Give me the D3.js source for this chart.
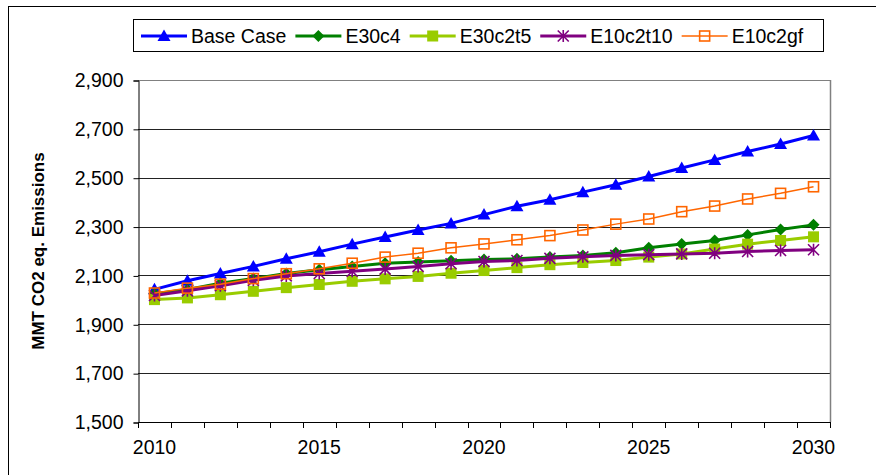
<!DOCTYPE html>
<html>
<head>
<meta charset="utf-8">
<script src="https://cdn.jsdelivr.net/npm/d3@7"></script>
<style>
  html, body { margin: 0; padding: 0; background: #fff; }
  svg { display: block; font-family: "Liberation Sans", Arial, sans-serif; }
</style>
</head>
<body>
<svg id="chart" width="876" height="475"></svg>
<script>
// Emission projections, MMT CO2 eq., 2010–2030
const years = d3.range(2010, 2031);
const baseCase = [2043, 2078, 2108, 2137, 2168, 2197, 2228, 2257, 2286, 2313, 2349,
                  2383, 2410, 2441, 2471, 2505, 2540, 2573, 2607, 2638, 2673];
const e30c4 = [2025, 2042, 2068, 2087, 2108, 2123, 2137, 2150, 2155, 2160, 2165,
               2168, 2175, 2182, 2193, 2213, 2229, 2243, 2266, 2288, 2307];
const e30c2t5 = [2001, 2008, 2021, 2035, 2050, 2063, 2076, 2086, 2096, 2109, 2120,
                 2132, 2144, 2153, 2161, 2175, 2188, 2208, 2228, 2243, 2258];
const e10c2t10 = [2018, 2037, 2058, 2080, 2098, 2108, 2117, 2126, 2137, 2148, 2157,
                  2161, 2170, 2176, 2182, 2185, 2188, 2191, 2198, 2202, 2205];
const e10c2gf = [2028, 2048, 2064, 2087, 2107, 2127, 2150, 2175, 2191, 2213, 2229,
                 2246, 2263, 2286, 2310, 2331, 2361, 2384, 2413, 2436, 2463];

const seriesNames = ["Base Case", "E30c4", "E30c2t5", "E10c2t10", "E10c2gf"];
const seriesValues = [baseCase, e30c4, e30c2t5, e10c2t10, e10c2gf];
const yTicks = [1500, 1700, 1900, 2100, 2300, 2500, 2700, 2900];
const xLabelYears = [2010, 2015, 2020, 2025, 2030];
const yTitle = "MMT CO2 eq. Emissions";

// Visual style per series
const styles = [
  { color: "#0000FF", width: 3,   marker: "triangle" },
  { color: "#008000", width: 3,   marker: "diamond" },
  { color: "#99CC00", width: 3,   marker: "square" },
  { color: "#800080", width: 3,   marker: "star" },
  { color: "#FF6600", width: 1.5, marker: "hollowSquare" }
];

const svg = d3.select("#chart");
const plot = { left: 138, right: 830, top: 80, bottom: 422 };

const x = d3.scaleBand().domain(years).range([plot.left, plot.right]).padding(0);
const cx = d => x(d) + x.bandwidth() / 2;
const y = d3.scaleLinear().domain([1500, 2900]).range([plot.bottom, plot.top]);

// Outer chart frame (continues past the right and bottom edges)
svg.append("rect")
  .attr("x", 8.5).attr("y", 6.5).attr("width", 900).attr("height", 520)
  .attr("fill", "#fff").attr("stroke", "#000").attr("stroke-width", 1);

// Horizontal gridlines
svg.append("g")
  .selectAll("line")
  .data(yTicks.filter(v => v !== 1500))
  .join("line")
  .attr("x1", plot.left).attr("x2", plot.right)
  .attr("y1", d => Math.round(y(d)) + 0.5).attr("y2", d => Math.round(y(d)) + 0.5)
  .attr("stroke", d => d === 2900 ? "#808080" : "#222")
  .attr("stroke-width", 1);

// Plot area right border
svg.append("line")
  .attr("x1", plot.right + 0.5).attr("x2", plot.right + 0.5)
  .attr("y1", plot.top).attr("y2", plot.bottom)
  .attr("stroke", "#808080").attr("stroke-width", 1.5);

// Y axis
const yAxis = svg.append("g")
  .attr("transform", `translate(${plot.left + 0.5},0.5)`)
  .call(d3.axisLeft(y).tickValues(yTicks).tickSize(5).tickPadding(10)
    .tickFormat(d3.format(",")));
yAxis.select(".domain").attr("stroke", "#000");
yAxis.selectAll(".tick line").attr("stroke", "#000");
yAxis.selectAll("text")
  .attr("font-size", 19.5).attr("fill", "#000")
  .attr("font-family", "Liberation Sans, Arial, sans-serif");

// X axis: labels at category centres
const xAxis = svg.append("g")
  .attr("transform", `translate(0,${plot.bottom + 0.5})`)
  .call(d3.axisBottom(x).tickValues(xLabelYears).tickSize(0).tickPadding(18));
xAxis.select(".domain").remove();
xAxis.selectAll("text")
  .attr("font-size", 19.5).attr("fill", "#000")
  .attr("font-family", "Liberation Sans, Arial, sans-serif");

// X axis line and category boundary ticks
const boundaries = years.map(d => x(d)).concat([plot.right]);
svg.append("line")
  .attr("x1", plot.left).attr("x2", plot.right)
  .attr("y1", plot.bottom + 0.5).attr("y2", plot.bottom + 0.5)
  .attr("stroke", "#000");
svg.append("g")
  .selectAll("line")
  .data(boundaries)
  .join("line")
  .attr("x1", d => Math.round(d) + 0.5).attr("x2", d => Math.round(d) + 0.5)
  .attr("y1", plot.bottom).attr("y2", plot.bottom + 6)
  .attr("stroke", "#000");

// Y axis title
svg.append("text")
  .attr("transform", `translate(38,${(plot.top + plot.bottom) / 2 + 0}) rotate(-90)`)
  .attr("text-anchor", "middle")
  .attr("dominant-baseline", "central")
  .attr("font-size", 17).attr("font-weight", "bold")
  .text(yTitle);

// Marker drawing
function drawMarker(g, type, color) {
  switch (type) {
    case "triangle":
      g.append("path").attr("d", "M0,-6.5L6.5,5L-6.5,5Z").attr("fill", color);
      break;
    case "diamond":
      g.append("path").attr("d", "M0,-6L6,0L0,6L-6,0Z").attr("fill", color);
      break;
    case "square":
      g.append("rect").attr("x", -5.5).attr("y", -5.5).attr("width", 11).attr("height", 11)
        .attr("fill", color);
      break;
    case "star":
      g.append("path")
        .attr("d", "M0,-6V6M-5.5,-5.5L5.5,5.5M-5.5,5.5L5.5,-5.5")
        .attr("stroke", color).attr("stroke-width", 1.6).attr("fill", "none");
      break;
    case "hollowSquare":
      g.append("rect").attr("x", -5).attr("y", -5).attr("width", 10).attr("height", 10)
        .attr("fill", "none").attr("stroke", color).attr("stroke-width", 1.6);
      break;
  }
}

const line = d3.line().x(d => cx(d.year)).y(d => y(d.value));

seriesValues.forEach((vals, i) => {
  const pts = years.map((yr, j) => ({ year: yr, value: vals[j] }));
  const g = svg.append("g").attr("class", "series");
  g.append("path")
    .datum(pts)
    .attr("d", line)
    .attr("fill", "none")
    .attr("stroke", styles[i].color)
    .attr("stroke-width", styles[i].width);
  g.selectAll("g.mk")
    .data(pts)
    .join("g")
    .attr("class", "mk")
    .attr("transform", d => `translate(${cx(d.year)},${y(d.value)})`)
    .each(function () { drawMarker(d3.select(this), styles[i].marker, styles[i].color); });
});

// Legend
const legend = svg.append("g");
legend.append("rect")
  .attr("x", 133.5).attr("y", 19.5).attr("width", 690).attr("height", 32)
  .attr("fill", "#fff").attr("stroke", "#000");
let lx = 141;
const ly = 36;
seriesNames.forEach((name, i) => {
  const g = legend.append("g");
  g.append("line")
    .attr("x1", lx).attr("x2", lx + 46).attr("y1", ly).attr("y2", ly)
    .attr("stroke", styles[i].color).attr("stroke-width", styles[i].width);
  const m = g.append("g").attr("transform", `translate(${lx + 23},${ly})`);
  drawMarker(m, styles[i].marker, styles[i].color);
  const t = g.append("text")
    .attr("x", lx + 50).attr("y", ly)
    .attr("dominant-baseline", "central")
    .attr("font-size", 19.5)
    .text(name);
  lx = lx + 50 + t.node().getComputedTextLength() + 9;
});
</script>
</body>
</html>
